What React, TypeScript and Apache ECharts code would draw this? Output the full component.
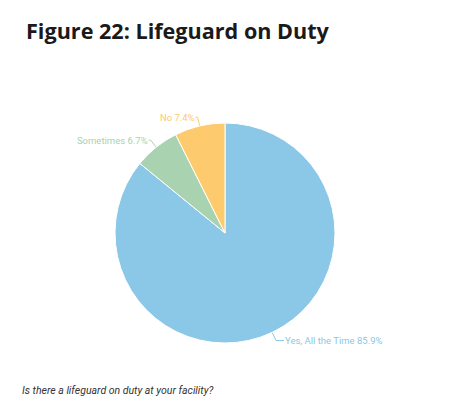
import React, { useEffect, useRef } from "react";
import * as echarts from "echarts";

const categories = ["Yes, All the Time", "Sometimes", "No"];
const values = [85.9, 6.7, 7.4];
const colors = ["#8bc7e6", "#a9d2b0", "#fdcb6e"];
const titleText = "Figure 22: Lifeguard on Duty";
const footnote = "Is there a lifeguard on duty at your facility?";

export default function App() {
  const ref = useRef<HTMLDivElement>(null);
  useEffect(() => {
    if (!ref.current) return;
    const chart = echarts.init(ref.current, null, { renderer: "svg" });
    chart.setOption({
      animation: false,
      backgroundColor: "#ffffff",
      title: {
        text: titleText,
        left: 21,
        top: 14,
        textStyle: {
          fontFamily: "Open Sans",
          fontWeight: "bold",
          fontSize: 21.6,
          color: "#1a1a1a",
        },
      },
      graphic: [
        {
          type: "text",
          left: 22,
          top: 385,
          style: {
            text: footnote,
            font: "italic 10.5px Roboto",
            fill: "#333333",
          },
        },
      ],
      series: [
        {
          type: "pie",
          center: [225, 233],
          radius: [0, 110],
          startAngle: 90,
          clockwise: true,
          data: categories.map((c, i) => ({
            name: c,
            value: values[i],
            itemStyle: { color: colors[i] },
            label: { color: colors[i] },
            labelLine: {
              length2: i === 0 ? 8 : 2,
              lineStyle: { color: colors[i] },
            },
          })),
          itemStyle: { borderColor: "#ffffff", borderWidth: 1 },
          label: {
            formatter: (p: any) => `${p.name} ${p.value}%`,
            fontFamily: "Roboto",
            fontSize: 9.5,
            distanceToLabelLine: 1,
          },
          labelLine: { length: 9, length2: 2, lineStyle: { width: 1 } },
        },
      ],
    });
    return () => chart.dispose();
  }, []);
  return (
    <div
      ref={ref}
      style={{ position: "absolute", left: 0, top: 0, width: 450, height: 414 }}
    />
  );
}
